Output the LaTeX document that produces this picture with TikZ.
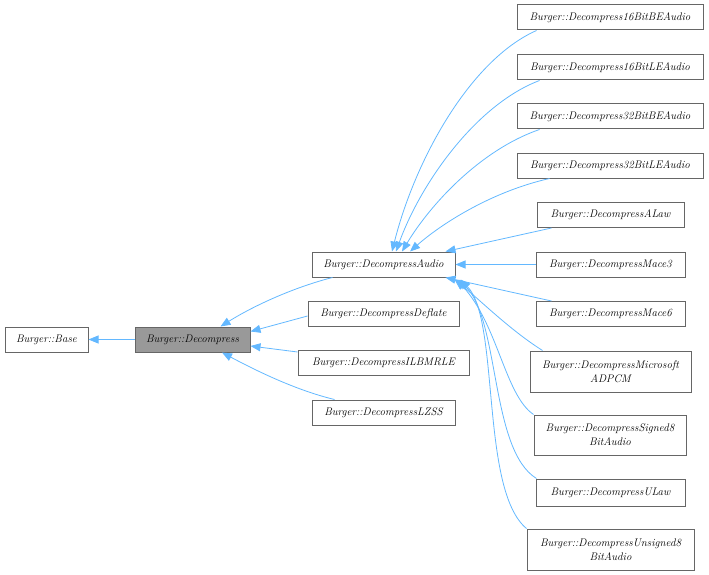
\documentclass[tikz,border=0pt]{standalone}
\usepackage{tikz}
\usetikzlibrary{arrows.meta,positioning}
\definecolor{edgeblue}{HTML}{63B8FF}
\definecolor{boxline} {HTML}{666666}
\definecolor{curgray} {HTML}{999999}

\begin{document}
\begin{tikzpicture}[x=1pt,y=-1pt,
        cls/.style={rectangle,draw=boxline,fill=white,line width=1pt,
                    font=\itshape\fontsize{11}{14}\selectfont,
                    align=center,minimum height=25pt,inner sep=2pt},
        cur/.style={cls,fill=curgray},
        inh/.style={-{Triangle[length=10pt,width=8pt]},edgeblue,line width=0.8pt}]
        \useasboundingbox (0,0) rectangle (709,575);
        % base classes
        \node[cls,minimum width=83pt] (base) at (46.5,339.5) {Burger::Base};
        \node[cur,minimum width=115pt] (decomp) at (192.5,339.5) {Burger::Decompress};
        % direct children
        \node[cls,minimum width=143pt] (audio) at (383.5,264.5) {Burger::DecompressAudio};
        \node[cls,minimum width=151pt] (deflate) at (383.5,313.5) {Burger::DecompressDeflate};
        \node[cls,minimum width=171pt] (ilbm) at (383.5,363) {Burger::DecompressILBMRLE};
        \node[cls,minimum width=143pt] (lzss) at (383.5,412.5) {Burger::DecompressLZSS};
        % audio children
        \node[cls,minimum width=186pt] (be16) at (610,17.5) {Burger::Decompress16BitBEAudio};
        \node[cls,minimum width=186pt] (le16) at (610,67.5) {Burger::Decompress16BitLEAudio};
        \node[cls,minimum width=186pt] (be32) at (610,116.5) {Burger::Decompress32BitBEAudio};
        \node[cls,minimum width=186pt] (le32) at (610,165.5) {Burger::Decompress32BitLEAudio};
        \node[cls,minimum width=147pt] (alaw) at (610.5,215) {Burger::DecompressALaw};
        \node[cls,minimum width=149pt] (mace3) at (610.5,264.5) {Burger::DecompressMace3};
        \node[cls,minimum width=149pt] (mace6) at (610.5,314) {Burger::DecompressMace6};
        \node[cls,minimum width=161pt,minimum height=41pt] (msadpcm) at (610.5,371.5) {Burger::DecompressMicrosoft\\ADPCM};
        \node[cls,minimum width=152pt,minimum height=40pt] (signed8) at (610,435) {Burger::DecompressSigned8\\BitAudio};
        \node[cls,minimum width=149pt,minimum height=27pt] (ulaw) at (610.5,492.5) {Burger::DecompressULaw};
        \node[cls,minimum width=167pt,minimum height=41pt] (unsigned8) at (610.5,549.5) {Burger::DecompressUnsigned8\\BitAudio};
        % inheritance edges
        \draw[inh] (decomp.west) -- (base.east);
        \draw[inh] ([xshift=21pt]audio.south west) .. controls (295,287) and (255,305) .. ([xshift=28pt]decomp.north);
        \draw[inh] ([yshift=-2.5pt]deflate.west) -- ([yshift=8pt]decomp.east);
        \draw[inh] ([yshift=11pt]ilbm.west) -- ([yshift=-6.5pt]decomp.east);
        \draw[inh] ([xshift=23pt]lzss.north west) .. controls (295,390) and (255,370) .. ([xshift=29.5pt]decomp.south);
        \draw[inh] ([xshift=20pt]be16.south west) .. controls (470,60) and (415,160) .. ([xshift=8.5pt]audio.north);
        \draw[inh] ([xshift=23pt]le16.south west) .. controls (475,105) and (420,185) .. ([xshift=12.5pt]audio.north);
        \draw[inh] ([xshift=23pt]be32.south west) .. controls (480,150) and (430,205) .. ([xshift=18.5pt]audio.north);
        \draw[inh] ([xshift=33pt]le32.south west) .. controls (490,192) and (440,225) .. ([xshift=26.5pt]audio.north);
        \draw[inh] ([xshift=15pt]alaw.south west) -- ([xshift=-10pt]audio.north east);
        \draw[inh] (mace3.west) -- (audio.east);
        \draw[inh] ([xshift=16pt]mace6.north west) -- ([xshift=-10pt]audio.south east);
        \draw[inh] ([xshift=13pt]msadpcm.north west) .. controls (510,330) and (480,300) .. ([xshift=-1pt,yshift=-2pt]audio.south east);
        \draw[inh] (signed8.north west) .. controls (505,395) and (498,325) .. ([xshift=1pt,yshift=-2pt]audio.south east);
        \draw[inh] ([xshift=1pt]ulaw.north west) .. controls (490,450) and (500,320) .. ([xshift=3pt,yshift=-2pt]audio.south east);
        \draw[inh] (unsigned8.north west) .. controls (480,490) and (500,320) .. ([xshift=5pt,yshift=-2pt]audio.south east);
      \end{tikzpicture}
\end{document}
